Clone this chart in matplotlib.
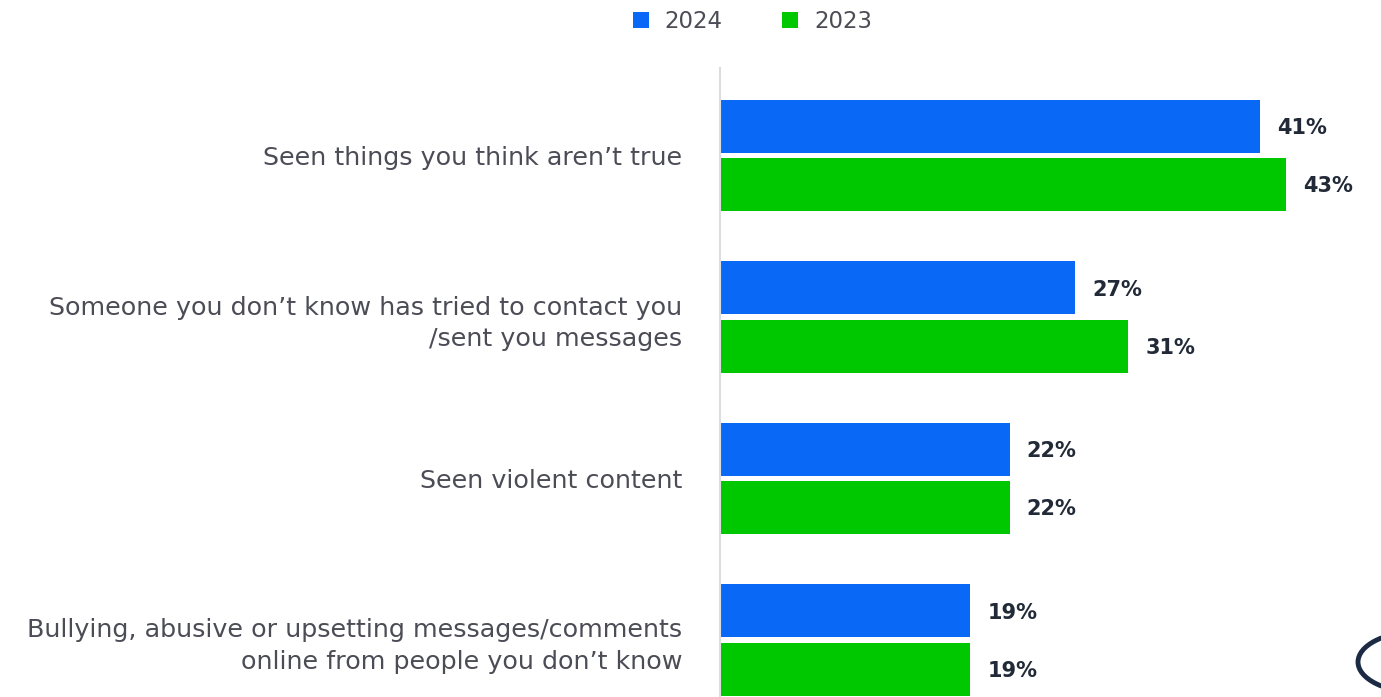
import matplotlib
matplotlib.use("Agg")
import matplotlib.pyplot as plt
from matplotlib.patches import Circle
import numpy as np

categories = ["Seen things you think aren\u2019t true",
              "Someone you don\u2019t know has tried to contact you\n/sent you messages",
              "Seen violent content",
              "Bullying, abusive or upsetting messages/comments\nonline from people you don\u2019t know"]
series_names = ["2024", "2023"]
vals_2024 = [41, 27, 22, 19]
vals_2023 = [43, 31, 22, 19]

blue = "#0a68f7"
green = "#00c800"
label_col = "#4b4c55"
val_col = "#222a38"

plt.rcParams['font.family'] = ['DejaVu Sans']

fig = plt.figure(figsize=(13.81, 6.97), dpi=100)
W, H = 1381, 697
# axes from x=720 to 1377 px, y=68 to 697 px
ax = fig.add_axes([720 / W, 0, (1377 - 720) / W, (697 - 68) / H])

y = np.arange(len(categories))
h = 0.328
off = 0.18
ax.barh(y - off, vals_2024, height=h, color=blue, label=series_names[0])
ax.barh(y + off, vals_2023, height=h, color=green, label=series_names[1])

for yi, v in zip(y - off, vals_2024):
    ax.text(v + 1.3, yi + 0.01, "%d%%" % v, va="center", ha="left",
            fontsize=15, fontweight="bold", color=val_col)
for yi, v in zip(y + off, vals_2023):
    ax.text(v + 1.3, yi + 0.01, "%d%%" % v, va="center", ha="left",
            fontsize=15, fontweight="bold", color=val_col)

ax.set_xlim(0, 49.9)
ax.set_ylim(3.353, -0.542)
ax.set_yticks(y)
ax.set_yticklabels(categories, fontsize=18.3, color=label_col, ha="right",
                   linespacing=1.38)
ax.tick_params(axis="y", length=0, pad=27)
ax.set_xticks([])
for s in ["top", "right", "bottom"]:
    ax.spines[s].set_visible(False)
ax.spines["left"].set_color("#dcdde0")
ax.spines["left"].set_linewidth(1.5)

leg = fig.legend(loc="upper center", bbox_to_anchor=(0.545, 1.015), ncol=2,
                 frameon=False, fontsize=16.5, handlelength=0.7, handleheight=0.7,
                 columnspacing=2.6, handletextpad=0.7)
for t in leg.get_texts():
    t.set_color(label_col)

# logo fragment in bottom-right corner
fig.patches.append(Circle((1418 / W, 1 - 662 / H), 60 / W, transform=fig.transFigure,
                          fill=False, edgecolor="#1c2a44", linewidth=3.5))

fig.savefig("out.png", dpi=100)
